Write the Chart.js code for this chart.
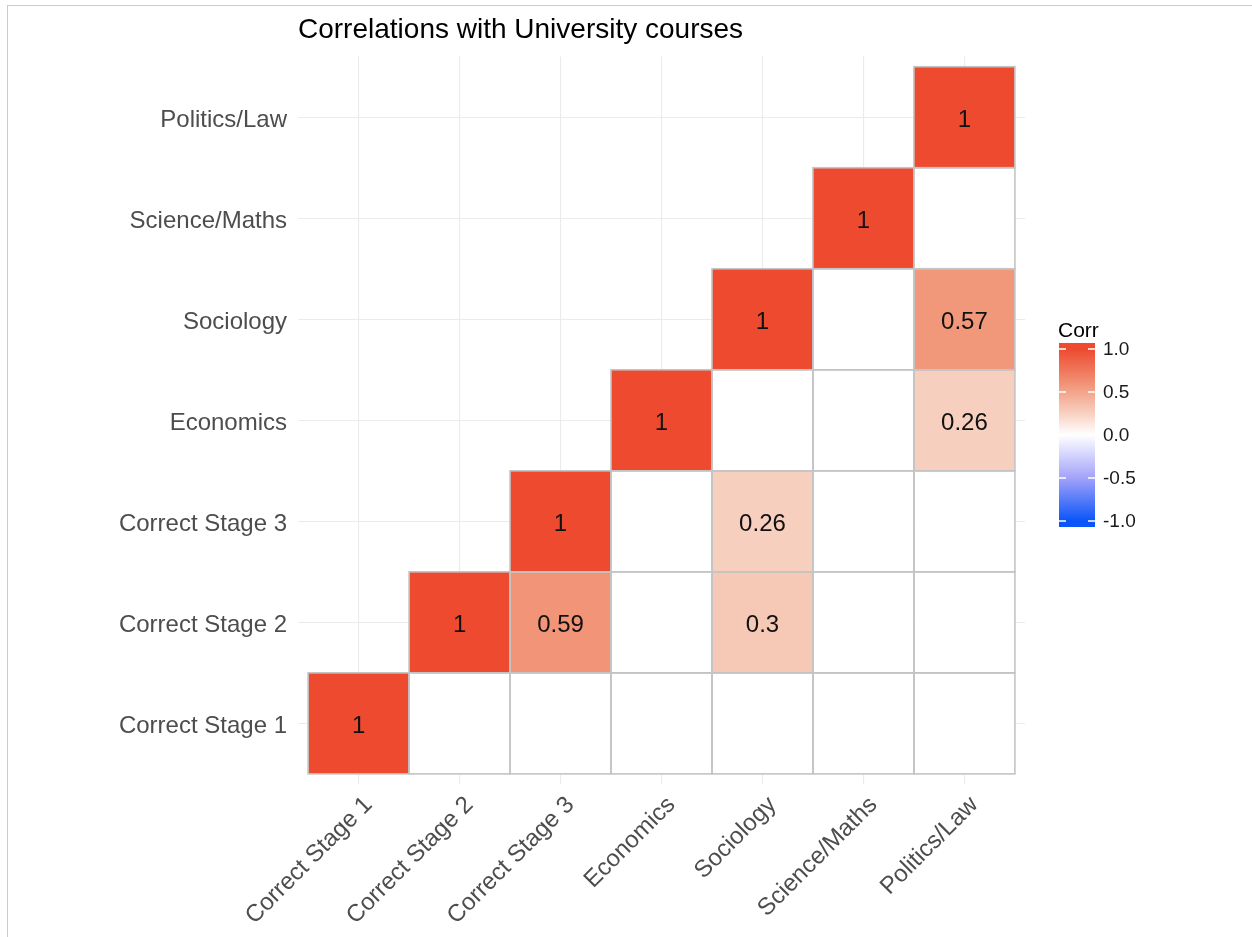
<!DOCTYPE html>
<html>
<head>
<meta charset="utf-8">
<script src="https://cdn.jsdelivr.net/npm/chart.js@4/dist/chart.umd.min.js"></script>
<style>
  html, body { margin: 0; padding: 0; background: #ffffff; }
  #frame {
    position: absolute; left: 7px; top: 5px; right: 0; bottom: 0;
    border-left: 1px solid #cacaca; border-top: 1px solid #cacaca;
  }
  #c { position: absolute; left: 0; top: 0; }
</style>
</head>
<body>
<div id="frame"></div>
<canvas id="c" width="1252" height="937"></canvas>
<script>
// Variables, in axis order (x left to right, y bottom to top)
const variables = ['Correct Stage 1', 'Correct Stage 2', 'Correct Stage 3', 'Economics', 'Sociology', 'Science/Maths', 'Politics/Law'];

// Upper triangle of the correlation matrix, one array per row, starting at the diagonal.
// null = not significant, shown as a blank cell.
const rowCorrectStage1 = [1, null, null, null, null, null, null];
const rowCorrectStage2 = [1, 0.59, null, 0.3, null, null];
const rowCorrectStage3 = [1, null, 0.26, null, null];
const rowEconomics     = [1, null, null, 0.26];
const rowSociology     = [1, null, 0.57];
const rowScienceMaths  = [1, null];
const rowPoliticsLaw   = [1];

const legendTicks = [1.0, 0.5, 0.0, -0.5, -1.0];

// Diverging fill scale: value -> colour stops
const colourStopValues = [-1, -0.5, 0, 0.27, 0.58, 1];
const colourStopHex    = ['#0A55F8', '#A2A2FA', '#FFFFFF', '#F7CDBD', '#F19679', '#ED4A30'];

const rows = [rowCorrectStage1, rowCorrectStage2, rowCorrectStage3, rowEconomics, rowSociology, rowScienceMaths, rowPoliticsLaw];

const FONT = '"Liberation Sans", Arial, sans-serif';

function hexToRgb(h) { return [1, 3, 5].map(i => parseInt(h.substr(i, 2), 16)); }
const stopRgb = colourStopHex.map(hexToRgb);
function colorFor(v) {
  if (v === null || v === undefined) return '#ffffff';
  const t = Math.max(-1, Math.min(1, v));
  let i = 0;
  while (i < colourStopValues.length - 2 && t > colourStopValues[i + 1]) i++;
  const a = colourStopValues[i], b = colourStopValues[i + 1];
  const k = (t - a) / (b - a);
  const c = stopRgb[i].map((x, j) => Math.round(x + (stopRgb[i + 1][j] - x) * k));
  return `rgb(${c[0]},${c[1]},${c[2]})`;
}

// --- Cells: one floating bar per matrix entry ---
const cells = [];
rows.forEach((row, r) => {
  row.forEach((v, k) => {
    const c = r + k;
    cells.push({ x: c + 1, y: [r + 0.5, r + 1.5], v: v });
  });
});

// Cell outlines and value labels
const cellDecor = {
  id: 'cellDecor',
  afterDatasetsDraw(chart) {
    const ctx = chart.ctx;
    const meta = chart.getDatasetMeta(0);
    ctx.save();
    ctx.strokeStyle = '#c4c4c4';
    ctx.lineWidth = 1.6;
    meta.data.forEach(bar => {
      const p = bar.getProps(['x', 'y', 'base', 'width'], true);
      ctx.strokeRect(p.x - p.width / 2, Math.min(p.y, p.base), p.width, Math.abs(p.base - p.y));
    });
    ctx.fillStyle = '#111111';
    ctx.font = '24px ' + FONT;
    ctx.textAlign = 'center';
    ctx.textBaseline = 'middle';
    meta.data.forEach((bar, i) => {
      const d = cells[i];
      if (d.v === null) return;
      const p = bar.getProps(['x', 'y', 'base'], true);
      ctx.fillText(String(d.v), p.x, (p.y + p.base) / 2 + 3);
    });
    ctx.restore();
  }
};

// Colour bar legend on the right
const colourBar = {
  id: 'colourBar',
  afterDraw(chart) {
    const ctx = chart.ctx;
    const left = 1059, width = 36;
    const zeroY = 435, unit = 86;           // pixels per unit of correlation
    const top = zeroY - 1.07 * unit, bottom = zeroY + 1.07 * unit;
    ctx.save();
    const grad = ctx.createLinearGradient(0, top, 0, bottom);
    for (let i = 0; i <= 60; i++) {
      const v = 1.07 - 2.14 * i / 60;
      grad.addColorStop(i / 60, colorFor(v));
    }
    ctx.fillStyle = grad;
    ctx.fillRect(left, top, width, bottom - top);
    ctx.strokeStyle = '#ffffff';
    ctx.lineWidth = 1.5;
    legendTicks.forEach(v => {
      const y = zeroY - v * unit;
      ctx.beginPath();
      ctx.moveTo(left, y); ctx.lineTo(left + 7, y);
      ctx.moveTo(left + width - 7, y); ctx.lineTo(left + width, y);
      ctx.stroke();
    });
    ctx.fillStyle = '#1a1a1a';
    ctx.font = '19px ' + FONT;
    ctx.textAlign = 'left';
    ctx.textBaseline = 'middle';
    legendTicks.forEach(v => {
      ctx.fillText(v.toFixed(1), 1103, zeroY - v * unit + 1);
    });
    ctx.fillStyle = '#000000';
    ctx.font = '21px ' + FONT;
    ctx.textBaseline = 'alphabetic';
    ctx.fillText('Corr', 1058, 337);
    ctx.restore();
  }
};

const axisTicks = scale => { scale.ticks = variables.map((_, i) => ({ value: i + 1 })); };

new Chart(document.getElementById('c'), {
  type: 'bar',
  data: {
    datasets: [{
      data: cells,
      backgroundColor: cells.map(d => colorFor(d.v)),
      borderWidth: 0,
      borderSkipped: false,
      inflateAmount: 0,
      categoryPercentage: 1,
      barPercentage: 1
    }]
  },
  options: {
    responsive: false,
    animation: false,
    devicePixelRatio: 1,
    layout: { padding: { left: 0, right: 227, top: 0, bottom: 0 } },
    plugins: {
      legend: { display: false },
      tooltip: { enabled: false },
      title: {
        display: true,
        text: 'Correlations with University courses',
        align: 'start',
        fullSize: false,
        color: '#000000',
        font: { family: FONT, size: 28, weight: 'normal' },
        padding: { top: 13, bottom: 10 }
      }
    },
    scales: {
      x: {
        type: 'linear',
        offset: false,
        min: 0.4, max: 7.6,
        afterBuildTicks: axisTicks,
        afterFit: s => { s.height = 153; },
        grid: { color: '#ebebeb', lineWidth: 1.1, drawTicks: false, offset: false },
        border: { display: false },
        ticks: {
          autoSkip: false, minRotation: 45, maxRotation: 45,
          padding: 7, labelOffset: 10,
          color: '#4d4d4d',
          font: { family: FONT, size: 24 },
          callback: v => variables[v - 1]
        }
      },
      y: {
        type: 'linear',
        min: 0.4, max: 7.6,
        afterBuildTicks: axisTicks,
        afterFit: s => { s.width = 298; },
        grid: { color: '#ebebeb', lineWidth: 1.1, drawTicks: false },
        border: { display: false },
        ticks: {
          autoSkip: false,
          padding: 11,
          labelOffset: 3,
          color: '#4d4d4d',
          font: { family: FONT, size: 24 },
          callback: v => variables[v - 1]
        }
      }
    }
  },
  plugins: [cellDecor, colourBar]
});
</script>
</body>
</html>
